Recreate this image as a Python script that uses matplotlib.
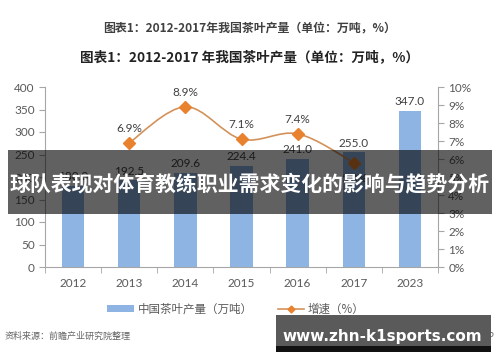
import matplotlib
matplotlib.use("Agg")
import matplotlib.pyplot as plt
from matplotlib.patches import Rectangle, Patch
from matplotlib.lines import Line2D
from matplotlib.path import Path
from matplotlib.patches import PathPatch
import matplotlib.ticker as mticker

plt.rcParams['font.family'] = ['Lato', 'Noto Sans CJK SC', 'DejaVu Sans']

# datos
years = ["2012", "2013", "2014", "2015", "2016", "2017", "2023"]
produccion = [180.0, 192.5, 209.6, 224.4, 241.0, 255.0, 347.0]
crec_idx = [1, 2, 3, 4, 5]
crecimiento = [6.9, 8.9, 7.1, 7.4, 5.8]

W, H = 500, 362


def fx(x):
    return x / W


def fy(y):
    return 1 - y / H


fig = plt.figure(figsize=(5, 3.62), dpi=100)
fig.patch.set_facecolor("white")
ax = fig.add_axes([fx(45), fy(267), fx(438) - fx(45), fy(87) - fy(267)])
ax2 = ax.twinx()

gris = "#595959"
eje = "#a6a6a6"

x = list(range(len(years)))
ax.bar(x, produccion, width=0.4, color="#8DB4E2", zorder=2)
for xi, v in zip(x, produccion):
    ax.text(xi, v + 8, "%.1f" % v, ha="center", va="bottom", fontsize=8.5, color="#404040")

ax.set_xlim(-0.5, len(years) - 0.5)
ax.set_ylim(0, 400)
ax.yaxis.set_major_locator(mticker.MultipleLocator(50))
ax.set_xticks(x)
ax.set_xticklabels(years)
ax.xaxis.set_minor_locator(mticker.FixedLocator([i + 0.5 for i in range(-1, len(years))]))
ax.tick_params(axis="x", which="major", length=0, labelsize=8.5, labelcolor=gris, pad=8)
ax.tick_params(axis="x", which="minor", length=4, color=eje, direction="out")
ax.tick_params(axis="y", length=4, color=eje, labelsize=8.5, labelcolor=gris, direction="out")

for s in ["top", "right"]:
    ax.spines[s].set_visible(False)
ax.spines["left"].set_color(eje)
ax.spines["bottom"].set_color(eje)

ax2.set_ylim(0, 10)
ax2.yaxis.set_major_locator(mticker.MultipleLocator(1))
ax2.yaxis.set_major_formatter(mticker.FuncFormatter(lambda v, p: "%d%%" % v))
ax2.tick_params(axis="y", length=4, color=eje, labelsize=8.5, labelcolor=gris, direction="out")
for s in ["top", "left", "bottom"]:
    ax2.spines[s].set_visible(False)
ax2.spines["right"].set_color(eje)

# linea suavizada (estilo Excel) entre los puntos de crecimiento
pts = list(zip(crec_idx, crecimiento))
verts = [pts[0]]
codes = [Path.MOVETO]
for i in range(len(pts) - 1):
    p0 = pts[i - 1] if i > 0 else pts[i]
    p1 = pts[i]
    p2 = pts[i + 1]
    p3 = pts[i + 2] if i + 2 < len(pts) else pts[i + 1]
    c1 = (p1[0] + (p2[0] - p0[0]) / 6, p1[1] + (p2[1] - p0[1]) / 6)
    c2 = (p2[0] - (p3[0] - p1[0]) / 6, p2[1] - (p3[1] - p1[1]) / 6)
    verts += [c1, c2, p2]
    codes += [Path.CURVE4] * 3
ax2.add_patch(PathPatch(Path(verts, codes), facecolor="none", edgecolor="#D4925A", lw=1.2, zorder=3))
ax2.plot(crec_idx, crecimiento, linestyle="none", marker="D", markersize=6.5,
         color="#E9822F", zorder=4)
for xi, v in zip(crec_idx, crecimiento):
    if xi == 5:
        ax2.text(xi, v - 0.55, "%.1f%%" % v, ha="center", va="top", fontsize=8.5, color="#404040")
    else:
        ax2.text(xi, v + 0.5, "%.1f%%" % v, ha="center", va="bottom", fontsize=8.5, color="#404040")

# titulos
fig.text(0.5, fy(28), "图表1：2012-2017年我国茶叶产量（单位：万吨，%）", ha="center", va="center",
         fontsize=8.6, fontweight="bold", color="#404040", family=['Noto Sans CJK SC', 'DejaVu Sans'])
fig.text(0.5, fy(57), "图表1：2012-2017 年我国茶叶产量（单位：万吨，%）", ha="center", va="center",
         fontsize=9.8, fontweight="bold", color="#222222", family=['Noto Sans CJK SC', 'DejaVu Sans'])

# leyenda
handles = [Patch(facecolor="#8DB4E2", edgecolor="none"),
           Line2D([0], [0], color="#D4925A", lw=1.2, marker="D", markersize=3.5,
                  markerfacecolor="#E9822F", markeredgecolor="#E9822F")]
fig.legend(handles, ["中国茶叶产量（万吨）", "增速（%）"], loc="center",
           bbox_to_anchor=(fx(236), fy(309)), ncol=2, frameon=False,
           labelcolor=gris, handlelength=2.3, handleheight=0.6, columnspacing=2.2,
           handletextpad=0.3, prop={'family': ['Noto Sans CJK SC', 'DejaVu Sans'], 'size': 8.3})

fig.text(fx(5), fy(336), "资料来源：前瞻产业研究院整理", ha="left", va="center", fontsize=6.5,
         color="#666666", family=['Noto Sans CJK SC', 'DejaVu Sans'])
fig.text(fx(495), fy(336), "前瞻经济学人APP", ha="right", va="center", fontsize=6.5,
         color="#666666", family=['Noto Sans CJK SC', 'DejaVu Sans'])

# banda oscura con titulo superpuesto
fig.add_artist(Rectangle((fx(8), fy(214)), fx(492) - fx(8), fy(150) - fy(214),
                         transform=fig.transFigure, facecolor="black", alpha=0.62,
                         edgecolor="none", zorder=10))
fig.text(0.5, fy(184), "球队表现对体育教练职业需求变化的影响与趋势分析", ha="center", va="center",
         fontsize=15, fontweight="bold", color="white", zorder=11,
         family=['Noto Sans CJK SC', 'DejaVu Sans'])

# banda del sitio web
fig.add_artist(Rectangle((fx(276), fy(346)), fx(491) - fx(276), fy(315) - fy(346),
                         transform=fig.transFigure, facecolor="#5a5a5a",
                         edgecolor="none", zorder=10))
fig.add_artist(Rectangle((fx(276), fy(352)), fx(491) - fx(276), fy(346) - fy(352),
                         transform=fig.transFigure, facecolor="#111111",
                         edgecolor="none", zorder=10))
fig.text(fx(382), fy(337), "www.zhn-k1sports.com", ha="center", va="center",
         fontsize=11, fontweight="bold", color="white", zorder=11,
         family=['DejaVu Sans'])

plt.savefig("out.png", dpi=100)
plt.close()
